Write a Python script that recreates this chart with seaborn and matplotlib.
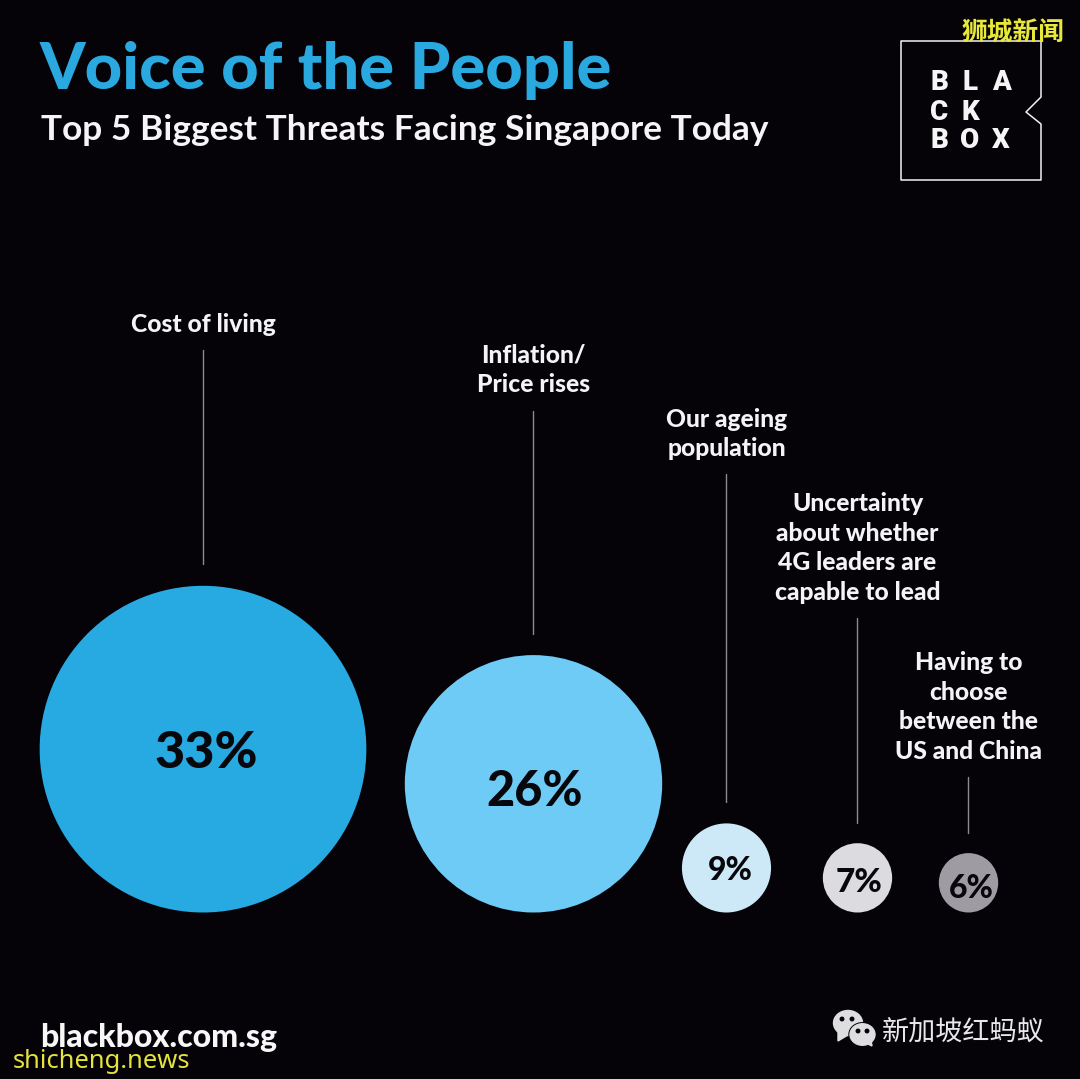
import matplotlib
matplotlib.use("Agg")
import matplotlib.pyplot as plt
import pandas as pd
import seaborn as sns
from matplotlib.patches import Ellipse, Polygon

# ---- data ----
categories = ["Cost of living", "Inflation/\nPrice rises", "Our ageing\npopulation",
              "Uncertainty\nabout whether\n4G leaders are\ncapable to lead",
              "Having to\nchoose\nbetween the\nUS and China"]
values = [33, 26, 9, 7, 6]
value_labels = ["33%", "26%", "9%", "7%", "6%"]
title = "Voice of the People"
subtitle = "Top 5 Biggest Threats Facing Singapore Today"

# ---- layout and style (pixel space) ----
W, H = 1080, 1079
BG = "#050308"
colors = ["#27A9E1", "#6DCBF5", "#CDE9F7", "#DCDBE0", "#9E9CA2"]
x_centres = [203, 533.5, 726.5, 857.5, 968.5]
baseline = 912.5
px_per_pct = 9.9
label_y = [324.5, 370, 434, 548, 707]
line_top = [350, 411, 474, 618, 777]
line_bot = [564, 634, 802, 823, 833]
pct_xy = [(206, 753), (535, 791), (730, 871), (859, 882), (971, 888)]
pct_size = [37.5, 35, 23, 24, 23]
LABEL_FONT = "Lato"

sns.set_theme(style="white", rc={"figure.facecolor": BG, "axes.facecolor": BG})
plt.rcParams["font.family"] = ["Lato", "Noto Sans CJK SC", "DejaVu Sans"]

fig = plt.figure(figsize=(W / 100, H / 100), dpi=100, facecolor=BG)
ax = fig.add_axes([0, 0, 1, 1])
ax.set_xlim(0, W)
ax.set_ylim(H, 0)
ax.axis("off")

df = pd.DataFrame({"category": categories, "value": values, "x": x_centres})
df["diam"] = df["value"] * px_per_pct
df["y"] = baseline - df["diam"] / 2
area = {v: (v * px_per_pct * 72 / 100) ** 2 for v in values}
sns.scatterplot(data=df, x="x", y="y", hue="category", size="value",
                palette=dict(zip(categories, colors)), sizes=area,
                legend=False, linewidth=0, ax=ax, zorder=3)
ax.set_xlim(0, W)
ax.set_ylim(H, 0)
ax.axis("off")

for i, cat in enumerate(categories):
    ax.plot([x_centres[i] - 0.5] * 2, [line_top[i], line_bot[i]], color="#8B8B90", lw=1.0, zorder=2)
    ax.text(x_centres[i], label_y[i], cat, color="#F4F4F6", fontsize=17.7, fontweight="black",
            ha="center", va="center", linespacing=1.36, family=LABEL_FONT)
    ax.text(pct_xy[i][0], pct_xy[i][1], value_labels[i], color="#08070C", fontsize=pct_size[i],
            fontweight="black", ha="center", va="center", zorder=4, family=LABEL_FONT)

ax.text(40, 71, title, color="#29A9E0", fontsize=46.8, fontweight="black", ha="left", va="center", family=LABEL_FONT)
ax.text(41, 130, subtitle, color="#F5F5F7", fontsize=25.4, fontweight="bold", ha="left", va="center", family=LABEL_FONT)

# logo
ax.plot([1041, 901, 901, 1041, 1041, 1026, 1041, 1041],
        [41, 41, 180, 180, 124, 112, 97, 41], color="#F2F2F2", lw=1.1, zorder=2)
logo = {"B": [(939, 82), (939, 140)], "L": [(970, 82)], "A": [(1001, 82)], "C": [(939, 111)],
        "K": [(970, 111)], "O": [(970, 140)], "X": [(1001, 140)]}
for ch, spots in logo.items():
    for lx, ly in spots:
        ax.text(lx, ly + 1, ch, color="#F5F5F5", fontsize=20, fontweight="black",
                ha="center", va="center", family="Roboto")

ax.text(40, 1037, "blackbox.com.sg", color="#F7F7F7", fontsize=23, fontweight="black",
        ha="left", va="center", family=LABEL_FONT)
ax.text(13, 1061, "shicheng.news", color="#E4E43C", fontsize=18.4, ha="left", va="center",
        family="Noto Sans")
ax.text(1013, 33, "狮城新闻", color="#E8E83A", fontsize=18.5, fontweight="bold", ha="center", va="center",
        family="Noto Sans CJK SC")
ax.text(963, 1033, "新加坡红蚂蚁", color="#E8E8EA", fontsize=19.5, ha="center", va="center",
        family="Noto Sans CJK SC")

# chat icon
ic = "#DEDDE0"
ax.add_patch(Ellipse((848, 1023), 29, 25, color=ic, zorder=3))
ax.add_patch(Polygon([(838, 1031), (838, 1041), (848, 1035)], color=ic, zorder=3))
ax.add_patch(Ellipse((862.5, 1034.5), 27, 23.5, color=BG, zorder=4))
ax.add_patch(Ellipse((862.5, 1034.5), 25, 21.5, color=ic, zorder=5))
ax.add_patch(Polygon([(866, 1043), (872, 1046), (871, 1040)], color=ic, zorder=5))
for ex, ey, z in [(842, 1019, 4), (852, 1019, 4), (858, 1031, 6), (867, 1031, 6)]:
    ax.add_patch(Ellipse((ex, ey), 3.5, 3.5, color=BG, zorder=z))

fig.savefig("out.png", dpi=100, facecolor=BG)
